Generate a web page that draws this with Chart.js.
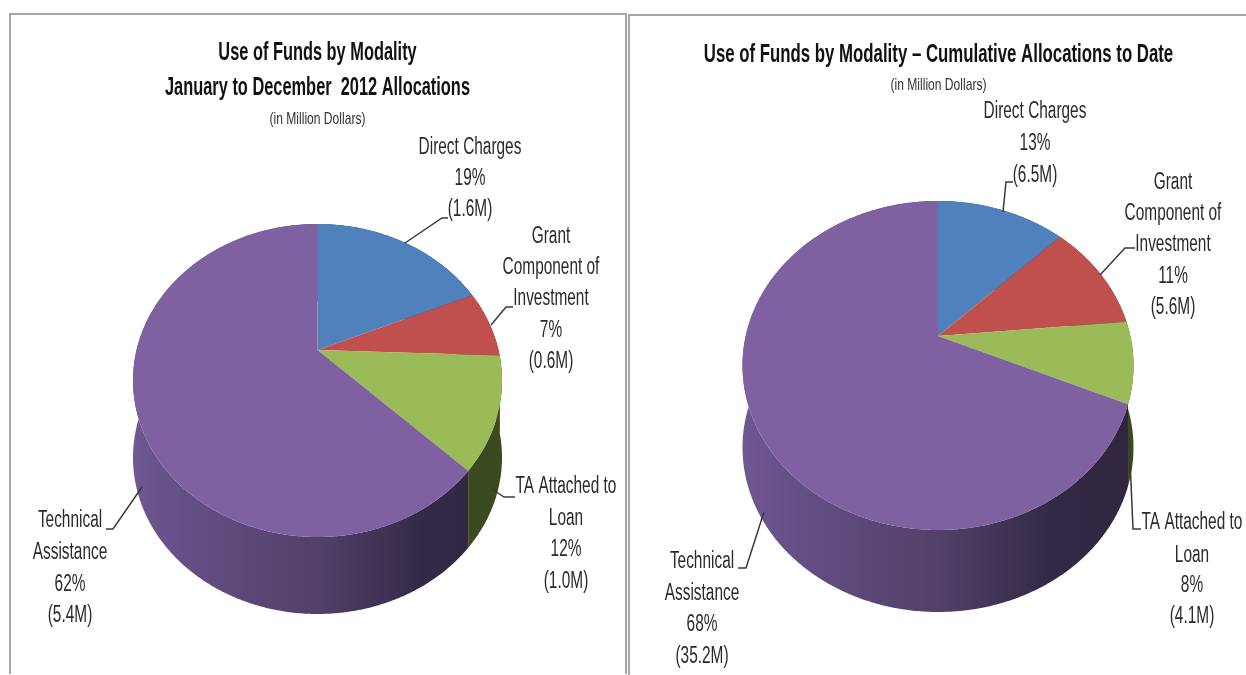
<!DOCTYPE html>
<html>
<head>
<meta charset="utf-8">
<style>
html,body{margin:0;padding:0;background:#fff;width:1246px;height:675px;overflow:hidden}
.wrap{position:absolute;top:0;height:675px}
.panel{position:absolute;box-sizing:border-box;border:2px solid #a6a6a6;border-bottom:none;height:661px}
canvas{position:absolute;left:0;top:0}
</style>
<script src="https://cdn.jsdelivr.net/npm/chart.js@4"></script>
</head>
<body>
<div class="panel" style="left:9px;top:13px;width:618px"></div>
<div class="panel" style="left:628px;top:14px;width:620px;border-right:none"></div>
<div class="wrap" style="left:0;width:627px"><canvas id="c1" width="627" height="675"></canvas></div>
<div class="wrap" style="left:627px;width:619px"><canvas id="c2" width="619" height="675"></canvas></div>
<script>
const categories = ["Direct Charges", "Grant Component of Investment", "TA Attached to Loan", "Technical Assistance"];
const labelLines = [["Direct Charges"], ["Grant", "Component of", "Investment"], ["TA Attached to", "Loan"], ["Technical", "Assistance"]];
const colors = ["#4f81bd", "#c0504d", "#9bbb59", "#7f60a1"];
const valuesPeriod = [1.6, 0.6, 1.0, 5.4];
const percentPeriod = [19, 7, 12, 62];
const valuesCumulative = [6.5, 5.6, 4.1, 35.2];
const percentCumulative = [13, 11, 8, 68];
const titlePeriod = ["Use of Funds by Modality", "January to December  2012 Allocations"];
const titleCumulative = ["Use of Funds by Modality \u2013 Cumulative Allocations to Date"];
const subtitle = "(in Million Dollars)";

const FONT = '"Liberation Sans", Arial, sans-serif';

function stretched(ctx, text, x, y, size, weight, sx, color) {
  ctx.save();
  ctx.translate(x, y);
  ctx.scale(sx, 1);
  ctx.font = weight + " " + size + "px " + FONT;
  ctx.fillStyle = color;
  ctx.textAlign = "center";
  ctx.textBaseline = "middle";
  ctx.fillText(text, 0, 0);
  ctx.restore();
}

function rimPoint(el, view, a) {
  const rx = el.outerRadius, ry = view.ry, k = view.apexLift / ry;
  const u = Math.cos(a), v = Math.sin(a), w = 1 - k * v;
  return {
    x: el.x + rx * Math.sqrt(1 - k * k) * u / w,
    y: el.y + (ry * v - view.apexLift) / w
  };
}

function rimPath(el, view) {
  const pts = [], n = Math.max(4, Math.ceil((el.endAngle - el.startAngle) / 0.01));
  for (let i = 0; i <= n; i++) pts.push(rimPoint(el, view, el.startAngle + (el.endAngle - el.startAngle) * i / n));
  return pts;
}

const tilted = {
  id: "tilted",
  beforeDatasetDraw(chart, args, opts) {
    const ctx = chart.ctx, arcs = args.meta.data, view = opts;
    const order = arcs.map((el, i) => i).sort((p, q) =>
      Math.sin((arcs[p].startAngle + arcs[p].endAngle) / 2) - Math.sin((arcs[q].startAngle + arcs[q].endAngle) / 2));
    const x0 = arcs[0].x;
    const grad = ctx.createLinearGradient(x0 - arcs[0].outerRadius, 0, x0 + arcs[0].outerRadius, 0);
    grad.addColorStop(0, "#705893");
    grad.addColorStop(0.12, "#655087");
    grad.addColorStop(0.5, "#524069");
    grad.addColorStop(0.78, "#342a47");
    grad.addColorStop(1, "#30263f");
    const sides = ["#2c4263", "#662a28", "#3c4a1f", grad];
    order.forEach(i => {
      const pts = rimPath(arcs[i], view);
      ctx.beginPath();
      pts.forEach((p, j) => j ? ctx.lineTo(p.x, p.y) : ctx.moveTo(p.x, p.y));
      pts.slice().reverse().forEach(p => ctx.lineTo(p.x, p.y + view.depth));
      ctx.closePath();
      ctx.fillStyle = sides[i];
      ctx.fill();
    });
    arcs.forEach((el, i) => {
      const pts = rimPath(el, view);
      ctx.beginPath();
      ctx.moveTo(el.x, el.y - view.apexLift);
      pts.forEach(p => ctx.lineTo(p.x, p.y));
      ctx.closePath();
      ctx.fillStyle = chart.data.datasets[0].backgroundColor[i];
      ctx.fill();
    });
    return false;
  },
  afterDraw(chart, args, opts) {
    const ctx = chart.ctx, ox = opts.originX;
    opts.title.forEach((t, i) => stretched(ctx, t, opts.titleX, opts.titleY[i] + 2, 26, "bold", opts.titleScale, "#111"));
    stretched(ctx, subtitle, opts.titleX, opts.subY + 1, 17, "normal", 0.71, "#333");
    const vals = chart.data.datasets[0].data;
    opts.leaders.forEach((path, i) => {
      ctx.beginPath();
      path.forEach((p, j) => j ? ctx.lineTo(p[0] - ox, p[1]) : ctx.moveTo(p[0] - ox, p[1]));
      ctx.strokeStyle = "#3a3a3a";
      ctx.lineWidth = 1.5;
      ctx.stroke();
      const lines = labelLines[i].concat([opts.percents[i] + "%", "(" + vals[i].toFixed(1) + "M)"]);
      lines.forEach((t, j) => stretched(ctx, t, opts.labelX[i] - ox, opts.labelY[i][j] + 2, 23, "normal", 0.67, "#2a2a2a"));
    });
  }
};

function make(id, values, cfg) {
  return new Chart(document.getElementById(id), {
    type: "pie",
    data: { labels: categories, datasets: [{ data: values, backgroundColor: colors, borderWidth: 0 }] },
    plugins: [tilted],
    options: {
      responsive: false,
      animation: false,
      layout: { padding: cfg.padding },
      plugins: { legend: { display: false }, tooltip: { enabled: false }, tilted: cfg }
    }
  });
}

make("c1", valuesPeriod, {
  padding: { left: 133, right: 125, top: 196, bottom: 110 },
  ry: 156.5, apexLift: 30.5, depth: 77, originX: 0,
  title: titlePeriod, titleX: 317.5, titleY: [51, 86], subY: 118, titleScale: 0.63,
  percents: percentPeriod,
  labelX: [470, 551, 566, 70],
  labelY: [[146, 177, 208], [235, 266, 297, 329, 360], [485, 517, 548, 580], [519, 551, 583, 614]],
  leaders: [
    [[405, 243], [442, 218], [448, 218]],
    [[491, 325], [506, 307], [513, 307]],
    [[492, 489], [504, 497], [515, 497]],
    [[142, 487], [113, 529], [106, 529]]
  ]
});
make("c2", valuesCumulative, {
  padding: { left: 115.5, right: 112.5, top: 170, bottom: 114 },
  ry: 164.5, apexLift: 29.5, depth: 82, originX: 627,
  title: titleCumulative, titleX: 311.5, titleY: [53], subY: 84, titleScale: 0.646,
  percents: percentCumulative,
  labelX: [1035, 1173, 1192, 702],
  labelY: [[110, 142, 174], [181, 212, 243, 275, 306], [521, 554, 584, 615], [560, 592, 623, 655]],
  leaders: [
    [[1003, 212], [1006, 182], [1013, 182]],
    [[1100, 275], [1125, 248], [1135, 248]],
    [[1129, 437], [1133, 529], [1141, 529]],
    [[764, 512], [746, 568], [738, 568]]
  ]
});
</script>
</body>
</html>
